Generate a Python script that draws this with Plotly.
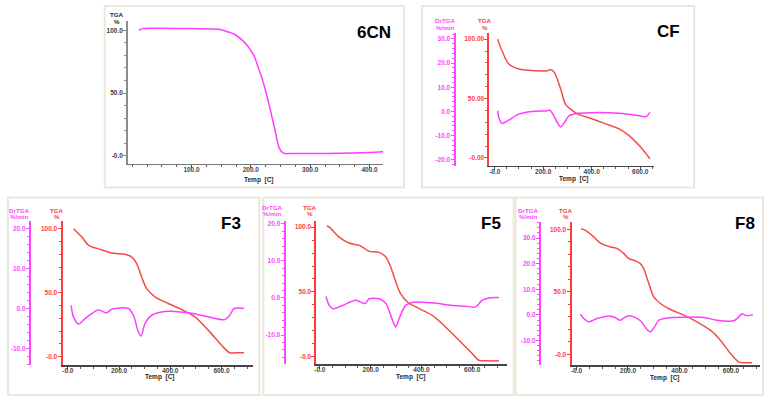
import plotly.graph_objects as go

W, H = 770, 401

# ---------------- data ----------------
# 6CN (TGA only)
cn6_temp = [11, 18, 50, 100, 145, 162, 173, 184, 195, 206, 212, 220, 229, 240, 248, 255, 270, 350, 400, 423]
cn6_tga = [100.0, 101.3, 101.5, 101.3, 100.8, 98.6, 96.6, 92.7, 87.3, 79.0, 71.0, 60.0, 44.0, 22.0, 6.0, 2.2, 1.9, 2.2, 2.8, 3.3]

# CF
cf_tga_temp = [12, 30, 58, 99, 168, 217, 232, 246, 272, 292, 320, 348, 403, 458, 513, 554, 596, 640]
cf_tga = [100.0, 90.2, 79.0, 74.8, 73.4, 73.4, 74.3, 72.0, 58.0, 45.0, 39.8, 36.4, 32.8, 28.6, 24.4, 18.8, 10.4, -0.8]
cf_dr_temp = [12, 17, 30, 58, 99, 154, 217, 226, 244, 260, 272, 285, 306, 327, 348, 403, 513, 596, 623, 640]
cf_dr = [0.3, -2.5, -4.9, -3.6, -1.1, 0.0, 0.3, 0.6, -1.8, -5.0, -6.4, -5.0, -1.8, -1.1, -0.8, -0.5, -0.8, -1.8, -2.2, -0.4]

# F3
f3_tga_temp = [22, 55, 81, 132, 171, 223, 249, 269, 288, 308, 340, 392, 444, 496, 548, 600, 632, 652, 688]
f3_tga = [100.0, 93.5, 87.0, 83.6, 81.0, 80.0, 78.0, 72.7, 62.3, 53.2, 46.8, 41.6, 36.9, 31.2, 20.8, 9.0, 3.1, 3.1, 3.1]
f3_dr_temp = [13, 22, 42, 68, 119, 152, 171, 236, 256, 275, 286, 301, 327, 392, 470, 548, 613, 632, 649, 688]
f3_dr = [0.8, -2.1, -3.9, -2.5, -0.4, -1.1, -0.2, 0.0, -1.7, -5.8, -6.9, -3.8, -1.7, -0.7, -1.1, -2.1, -2.8, -1.7, 0.0, 0.0]

# F5
f5_tga_temp = [27, 37, 76, 115, 155, 174, 194, 233, 260, 279, 299, 318, 345, 391, 443, 495, 548, 600, 626, 660, 705]
f5_tga = [100.8, 100.0, 92.3, 87.7, 85.9, 83.8, 81.3, 80.5, 76.9, 69.2, 57.7, 48.7, 42.3, 37.2, 32.0, 23.0, 12.8, 2.6, -2.6, -3.1, -3.1]
f5_dr_temp = [24, 37, 52, 89, 141, 178, 194, 233, 260, 286, 299, 312, 338, 377, 443, 522, 574, 613, 640, 666, 705]
f5_dr = [0.4, -2.0, -2.9, -2.0, -0.6, -1.5, -0.2, -0.2, -1.5, -6.0, -7.8, -5.6, -2.0, -1.1, -1.3, -2.0, -2.2, -2.4, -0.6, 0.0, 0.1]

# F8
f8_tga_temp = [18, 35, 67, 93, 132, 158, 184, 203, 229, 248, 261, 281, 300, 326, 365, 417, 468, 520, 559, 598, 630, 649, 682]
f8_tga = [100.5, 99.2, 93.9, 89.0, 85.9, 84.6, 80.6, 76.6, 74.7, 72.6, 68.6, 56.6, 46.0, 40.7, 35.9, 31.4, 26.0, 19.4, 11.4, 0.8, -5.9, -6.6, -6.6]
f8_dr_temp = [15, 28, 48, 80, 119, 145, 171, 184, 203, 223, 248, 274, 287, 303, 320, 352, 417, 494, 546, 611, 624, 643, 662, 686]
f8_dr = [0.3, -1.4, -2.7, -1.4, -0.5, -0.8, -2.1, -1.2, -0.3, -0.8, -2.3, -5.7, -6.6, -4.7, -2.1, -1.2, -0.9, -1.0, -2.1, -2.3, -1.4, 0.3, -0.3, 0.0]

# tick labels
x_ticks_6cn = [100, 200, 300, 400]
x_labels_6cn = ["100.0", "200.0", "300.0", "400.0"]
x_ticks = [0, 200, 400, 600]
x_labels = ["-0.0", "200.0", "400.0", "600.0"]
tga_ticks = [0, 50, 100]
tga_labels = ["-0.0", "50.0", "100.0"]
tga_labels_cf = ["-0.00", "50.00", "100.00"]
dr_ticks_cf = [-20, -10, 0, 10, 20, 30]
dr_ticks_f3 = [-10, 0, 10, 20]
dr_ticks_f5 = [-10, 0, 10, 20]
dr_ticks_f8 = [-10, 0, 10, 20, 30]

RED = "rgb(245,75,70)"
MAG = "rgb(255,60,255)"
AXRED = "rgb(255,60,60)"
AXMAG = "rgb(255,70,255)"
FONT = "Liberation Sans, Arial, sans-serif"


def px(v):
    return v / W


def py(v):
    return 1 - v / H


def fmt(vals):
    return [("%.1f" % v) if v != 0 else "0.0" for v in vals]


fig = go.Figure()
layout = dict(width=W, height=H, margin=dict(l=0, r=0, t=0, b=0),
              paper_bgcolor="white", plot_bgcolor="white", showlegend=False,
              font=dict(family=FONT))
shapes = []
annotations = []

boxes = [(103, 5, 403, 187), (421, 5, 694, 187), (6, 197, 258, 395),
         (262, 197, 513, 395), (515, 197, 763, 395)]
for (x0, y0, x1, y1) in boxes:
    shapes.append(dict(type="rect", xref="paper", yref="paper",
                       x0=px(x0), x1=px(x1), y0=py(y1), y1=py(y0),
                       line=dict(color="rgb(234,231,220)", width=2),
                       fillcolor="rgba(0,0,0,0)", layer="below"))

TICKSIZE = 6.5


def tickfont(color, size=TICKSIZE):
    return dict(family=FONT, size=size, color=color, weight="bold")


def add_text(x, y, text, color, size=6.5):
    annotations.append(dict(x=px(x), y=py(y), xref="paper", yref="paper",
                            text=text, showarrow=False,
                            font=dict(family=FONT, size=size, color=color, weight="bold"),
                            xanchor="center", yanchor="middle"))


panels = [
    dict(name="6CN", xi=1, yt=1, yd=None, xd=(126, 382), yd_px=(20, 163),
         xr=(-7.6, 422.7), tr=(-6.1, 107.4), dr=None, dpos=None,
         xt=x_ticks_6cn, xl=x_labels_6cn, tl=tga_labels, dt=None,
         tga=(cn6_temp, cn6_tga), drd=None, title_xy=(373, 32), temp_xy=(258, 179),
         tga_lab=(115, 14, 21), dr_lab=None, xminor=25),
    dict(name="CF", xi=2, yt=2, yd=3, xd=(488.7, 654), yd_px=(31.7, 165),
         xr=(-21.8, 658), tr=(-6.5, 105.5), dr=(-22.4, 32.6), dpos=453.7,
         xt=x_ticks, xl=x_labels, tl=tga_labels_cf, dt=dr_ticks_cf,
         tga=(cf_tga_temp, cf_tga), drd=(cf_dr_temp, cf_dr), title_xy=(668, 31), temp_xy=(573, 178),
         tga_lab=(484, 20, 27), dr_lab=(444, 20, 27), xminor=50),
    dict(name="F3", xi=3, yt=4, yd=5, xd=(60.7, 251.7), yd_px=(220.7, 365),
         xr=(-20.6, 723), tr=(-6.5, 105.9), dr=(-14.2, 21.9), dpos=28,
         xt=x_ticks, xl=x_labels, tl=tga_labels, dt=dr_ticks_f3,
         tga=(f3_tga_temp, f3_tga), drd=(f3_dr_temp, f3_dr), title_xy=(230, 223), temp_xy=(158, 377),
         tga_lab=(55, 210, 216), dr_lab=(17, 210, 216), xminor=50),
    dict(name="F5", xi=4, yt=6, yd=7, xd=(315.3, 506.3), yd_px=(220.7, 364),
         xr=(-13.4, 737), tr=(-5.6, 104.6), dr=(-17.8, 20.7), dpos=283.3,
         xt=x_ticks, xl=x_labels, tl=tga_labels, dt=dr_ticks_f5,
         tga=(f5_tga_temp, f5_tga), drd=(f5_dr_temp, f5_dr), title_xy=(490, 223), temp_xy=(410, 377),
         tga_lab=(309, 207, 213), dr_lab=(271, 207, 213), xminor=50),
    dict(name="F8", xi=5, yt=8, yd=9, xd=(571, 760), yd_px=(221.7, 365),
         xr=(-19.4, 713), tr=(-8.5, 105.7), dr=(-19.6, 36.2), dpos=539.3,
         xt=x_ticks, xl=x_labels, tl=tga_labels, dt=dr_ticks_f8,
         tga=(f8_tga_temp, f8_tga), drd=(f8_dr_temp, f8_dr), title_xy=(745, 223), temp_xy=(665, 378),
         tga_lab=(565, 210, 216), dr_lab=(527, 210, 216), xminor=50),
]

for p in panels:
    xn = "x" if p["xi"] == 1 else "x%d" % p["xi"]
    ytn = "y" if p["yt"] == 1 else "y%d" % p["yt"]
    xkey = "xaxis" if p["xi"] == 1 else "xaxis%d" % p["xi"]
    ytkey = "yaxis" if p["yt"] == 1 else "yaxis%d" % p["yt"]
    is6 = p["name"] == "6CN"
    tga_axcol = "rgb(140,140,140)" if is6 else AXRED
    tga_txtcol = "rgb(60,60,60)" if is6 else AXRED
    line_col = MAG if is6 else RED

    layout[xkey] = dict(domain=[px(p["xd"][0]), px(p["xd"][1])], range=list(p["xr"]),
                        anchor=ytn, showgrid=False, zeroline=False, showline=True,
                        linecolor="rgb(70,70,70)" if not is6 else "rgb(120,120,120)", linewidth=1.5,
                        tickmode="array", tickvals=p["xt"], ticktext=p["xl"],
                        ticks="outside", ticklen=3, tickcolor="rgb(70,70,70)", tickwidth=1,
                        tickfont=tickfont("rgb(70,70,70)"), ticklabelstandoff=-4,
                        minor=dict(ticks="outside", ticklen=2, dtick=p["xminor"], tick0=0,
                                   tickcolor="rgb(90,90,90)", showgrid=False),
                        fixedrange=True)
    layout[ytkey] = dict(domain=[py(p["yd_px"][1]), py(p["yd_px"][0])], range=list(p["tr"]),
                         anchor=xn, showgrid=False, zeroline=False, showline=True,
                         linecolor=tga_axcol, linewidth=1.5 if is6 else 2,
                         tickmode="array", tickvals=tga_ticks, ticktext=p["tl"],
                         ticks="outside", ticklen=3, tickcolor=tga_axcol, tickwidth=1,
                         tickfont=tickfont(tga_txtcol), ticklabelstandoff=-1,
                         minor=dict(ticks="outside", ticklen=2, dtick=10, tick0=0,
                                    tickcolor=tga_axcol, showgrid=False),
                         fixedrange=True)
    fig.add_trace(go.Scatter(x=p["tga"][0], y=p["tga"][1], mode="lines",
                             line=dict(color=line_col, width=1.5, shape="spline", smoothing=0.8),
                             xaxis=xn, yaxis=ytn, hoverinfo="skip"))
    if p["yd"] is not None:
        ydn = "y%d" % p["yd"]
        ydkey = "yaxis%d" % p["yd"]
        layout[ydkey] = dict(overlaying=ytn, anchor="free", position=px(p["dpos"]),
                             side="left", range=list(p["dr"]),
                             showgrid=False, zeroline=False, showline=True,
                             linecolor=AXMAG, linewidth=2,
                             tickmode="array", tickvals=p["dt"], ticktext=fmt(p["dt"]),
                             ticks="outside", ticklen=3, tickcolor=AXMAG, tickwidth=1,
                             tickfont=tickfont(AXMAG), ticklabelstandoff=-1,
                             minor=dict(ticks="outside", ticklen=2, dtick=2, tick0=0,
                                        tickcolor=AXMAG, showgrid=False),
                             fixedrange=True)
        fig.add_trace(go.Scatter(x=p["drd"][0], y=p["drd"][1], mode="lines",
                                 line=dict(color=MAG, width=1.5, shape="spline", smoothing=0.8),
                                 xaxis=xn, yaxis=ydn, hoverinfo="skip"))
        add_text(p["dr_lab"][0], p["dr_lab"][1], "DrTGA", AXMAG, 6.2)
        add_text(p["dr_lab"][0], p["dr_lab"][2], "%/min", AXMAG, 6.2)
    add_text(p["tga_lab"][0], p["tga_lab"][1], "TGA", tga_txtcol if not is6 else "rgb(40,40,40)", 6.2)
    add_text(p["tga_lab"][0], p["tga_lab"][2], "%", tga_txtcol if not is6 else "rgb(40,40,40)", 6.2)
    add_text(p["title_xy"][0], p["title_xy"][1], p["name"], "black", 17)
    add_text(p["temp_xy"][0], p["temp_xy"][1], "Temp&nbsp;&nbsp;[C]", "rgb(40,40,40)", 6.5)

layout["shapes"] = shapes
layout["annotations"] = annotations
fig.update_layout(**layout)
fig.write_html("out.html", config={"displayModeBar": False, "staticPlot": True},
               post_script="document.body.style.margin='0';document.body.style.padding='0';")
